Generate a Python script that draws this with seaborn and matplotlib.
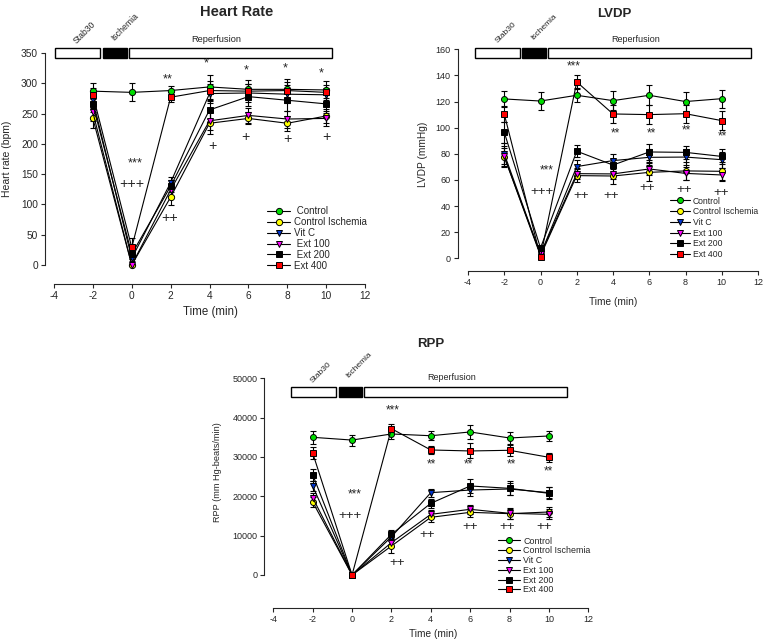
import matplotlib
matplotlib.use("Agg")
import matplotlib.pyplot as plt
from matplotlib.patches import Rectangle
import seaborn as sns
import numpy as np

# ---- data ----
times = [-2, 0, 2, 4, 6, 8, 10]
groups = ["Control", "Control Ischemia", "Vit C", "Ext 100", "Ext 200", "Ext 400"]
colors = ["#00dd00", "#ffff00", "#0033cc", "#ff00ff", "#000000", "#ff0000"]
markers = ["o", "o", "v", "v", "s", "s"]

hr_mean = {
    "Control":          [287, 285, 288, 294, 290, 290, 289],
    "Control Ischemia": [242, 0, 112, 234, 242, 234, 246],
    "Vit C":            [272, 11, 136, 283, 284, 282, 281],
    "Ext 100":          [252, 0, 124, 238, 247, 241, 242],
    "Ext 200":          [265, 18, 130, 256, 278, 272, 266],
    "Ext 400":          [281, 29, 277, 288, 287, 288, 285],
}
hr_sem = {
    "Control":          [13, 15, 7, 20, 15, 17, 14],
    "Control Ischemia": [15, 0, 13, 18, 10, 12, 12],
    "Vit C":            [12, 5, 10, 15, 15, 15, 12],
    "Ext 100":          [14, 0, 10, 15, 12, 14, 12],
    "Ext 200":          [12, 8, 10, 15, 15, 18, 15],
    "Ext 400":          [12, 15, 8, 15, 12, 14, 12],
}

lvdp_mean = {
    "Control":          [122, 120.4, 124.8, 120.7, 124.8, 120, 122.2],
    "Control Ischemia": [77.8, 2, 63.3, 63, 65.8, 66.9, 66.6],
    "Vit C":            [80, 3, 70.2, 74.8, 77.3, 77.5, 75.5],
    "Ext 100":          [78, 3, 64.8, 64.6, 68.4, 65, 63.8],
    "Ext 200":          [96.5, 7.9, 82, 71.4, 81.4, 81.1, 78],
    "Ext 400":          [110.5, 1, 135, 110.5, 110, 110.7, 105.4],
}
lvdp_sem = {
    "Control":          [6, 7, 5.5, 7, 7.5, 7.5, 7],
    "Control Ischemia": [7, 1, 5, 6, 7, 7, 7],
    "Vit C":            [8, 1, 5, 5, 6, 6, 6],
    "Ext 100":          [8, 1, 4, 4, 5, 5, 5],
    "Ext 200":          [8, 2, 4.5, 5, 6, 5, 5.5],
    "Ext 400":          [6, 0.5, 5.5, 7, 7.5, 7, 7],
}

rpp_mean = {
    "Control":          [35000, 34300, 35850, 35400, 36360, 34830, 35340],
    "Control Ischemia": [18560, 0, 7370, 14660, 15930, 15590, 16020],
    "Vit C":            [22630, 0, 9700, 20930, 21600, 21860, 20930],
    "Ext 100":          [19660, 0, 8220, 15420, 16700, 15680, 15420],
    "Ext 200":          [25510, 0, 10340, 18220, 22630, 22030, 20760],
    "Ext 400":          [31020, 0, 37200, 31780, 31530, 31700, 29920],
}
rpp_sem = {
    "Control":          [1700, 1400, 1300, 1100, 1700, 1500, 1300],
    "Control Ischemia": [1200, 0, 1800, 1200, 1200, 1300, 1300],
    "Vit C":            [1300, 0, 1000, 1000, 1500, 1500, 1400],
    "Ext 100":          [1200, 0, 1000, 1000, 1200, 1400, 1300],
    "Ext 200":          [1500, 0, 1000, 1200, 1800, 1800, 1500],
    "Ext 400":          [1500, 0, 1200, 1100, 1900, 1400, 1200],
}

# significance marks: (text, x, y)
hr_marks = [("***", 0.17, 168), ("+++", 0.0, 133), ("**", 1.85, 307),
            ("*", 3.85, 333), ("*", 5.87, 322), ("*", 7.9, 325), ("*", 9.75, 316),
            ("+", 4.13, 196), ("+", 5.87, 212), ("+", 8.0, 208), ("+", 10.0, 212),
            ("++", 1.97, 78)]
lvdp_marks = [("***", 1.85, 146.7), ("***", 0.34, 67), ("+++", 0.07, 50.5),
              ("++", 2.23, 48), ("++", 3.87, 48), ("++", 5.89, 53.6),
              ("++", 7.91, 52.3), ("++", 9.94, 50.3),
              ("**", 4.11, 95.7), ("**", 6.13, 95.7), ("**", 8.03, 97.7), ("**", 10.05, 93)]
rpp_marks = [("***", 2.06, 41780), ("***", 0.15, 20600), ("+++", -0.1, 15000),
             ("++", 2.27, 2970), ("++", 3.79, 10170), ("++", 6.02, 12290),
             ("++", 7.88, 12290), ("++", 9.76, 12290),
             ("**", 4.01, 28140), ("**", 5.9, 28140), ("**", 8.1, 28140), ("**", 9.97, 26270)]

sns.set_style("ticks")
plt.rcParams["font.family"] = ["Liberation Sans", "DejaVu Sans"]
plt.rcParams["axes.unicode_minus"] = False

fig = plt.figure(figsize=(7.64, 6.41), dpi=100)
W, H = 764, 641


def px(x, y):
    return x / W, (H - y) / H


def make_ax(x0, x1, y0, y1):
    # pixel box of the data area (x -4..12, y 0..top)
    return fig.add_axes([x0 / W, (H - y1) / H, (x1 - x0) / W, (y1 - y0) / H])


def draw_panel(ax, mean, sem, ytop, ystep, bars, labels, marks,
               off_l, off_b, fs_tick, fs_lab, fs_leg, leg_xy, leg_sp, leg_hl,
               leg_labels, ms):
    for g in groups:
        ax.errorbar(times, mean[g], yerr=sem[g], fmt="none", ecolor="black",
                    elinewidth=0.8, capsize=2.5, capthick=0.8, clip_on=False, zorder=2)
    for g, c, m, lab in zip(groups, colors, markers, leg_labels):
        sns.lineplot(x=times, y=mean[g], ax=ax, color="black", lw=0.8,
                     marker=m, markersize=ms, markerfacecolor=c,
                     markeredgecolor="black", markeredgewidth=0.7,
                     label=lab, clip_on=False, zorder=3)
    ax.set_xlim(-4, 12)
    ax.set_ylim(0, ytop)
    ax.set_xticks(np.arange(-4, 13, 2))
    ax.set_yticks(np.arange(0, ytop + 1, ystep))
    sns.despine(ax=ax)
    ax.spines["left"].set_position(("outward", off_l))
    ax.spines["bottom"].set_position(("outward", off_b))
    for s in ("left", "bottom"):
        ax.spines[s].set_linewidth(0.8)
    ax.tick_params(labelsize=fs_tick, length=3, width=0.8, pad=2)
    ax.set_xlabel("")
    ax.set_ylabel("")

    # protocol bars
    (s0, s1), (i0, i1), (r0, r1), (b0, b1) = bars
    for (a, b), fc in [((s0, s1), "white"), ((i0, i1), "black"), ((r0, r1), "white")]:
        ax.add_patch(Rectangle((a, b0), b - a, b1 - b0, facecolor=fc,
                               edgecolor="black", lw=1.0, clip_on=False))
    (sx, sy), (ix, iy), (rx, ry) = labels
    ax.text(sx, sy, "Stab30", rotation=45, rotation_mode="anchor",
            ha="left", va="bottom", fontsize=fs_lab, clip_on=False)
    ax.text(ix, iy, "Ischemia", rotation=45, rotation_mode="anchor",
            ha="left", va="bottom", fontsize=fs_lab, clip_on=False)
    ax.text(rx, ry, "Reperfusion", ha="center", va="center", fontsize=fs_lab + 0.5,
            clip_on=False)

    for t, x, y in marks:
        ax.text(x, y, t, ha="center", va="center",
                fontsize=fs_tick + 3 if "+" in t else fs_tick + 2, clip_on=False)

    ax.legend(loc="upper left", bbox_to_anchor=px(*leg_xy),
              bbox_transform=fig.transFigure, frameon=False,
              fontsize=fs_leg, handlelength=leg_hl, handletextpad=0.35,
              labelspacing=leg_sp, borderpad=0, borderaxespad=0)


ax1 = make_ax(54, 365, 53, 265)
draw_panel(ax1, hr_mean, hr_sem, 350, 50,
           bars=[(-3.95, -1.63), (-1.48, -0.25), (-0.14, 10.3), (342, 358)],
           labels=[(-2.75, 362), (-0.85, 367), (4.33, 372)],
           marks=hr_marks, off_l=6.5, off_b=13.5, fs_tick=7.3, fs_lab=6.2,
           fs_leg=7, leg_xy=(267, 206), leg_sp=0.1, leg_hl=2.4,
           leg_labels=[" Control", "Control Ischemia", "Vit C", " Ext 100",
                       " Ext 200", "Ext 400"], ms=4.5)

ax2 = make_ax(468, 758, 49.3, 258.3)
draw_panel(ax2, lvdp_mean, lvdp_sem, 160, 20,
           bars=[(-3.61, -1.12), (-1.0, 0.29), (0.41, 11.6), (153, 161)],
           labels=[(-2.3, 163.5), (-0.3, 166), (5.25, 167.5)],
           marks=lvdp_marks, off_l=7.5, off_b=9.5, fs_tick=6.5, fs_lab=6,
           fs_leg=6.2, leg_xy=(670, 196.5), leg_sp=0.2, leg_hl=2.3,
           leg_labels=groups, ms=4.3)

ax3 = make_ax(273.3, 588.3, 378.3, 575)
draw_panel(ax3, rpp_mean, rpp_sem, 50000, 10000,
           bars=[(-3.12, -0.82), (-0.67, 0.50), (0.61, 10.92), (45300, 47900)],
           labels=[(-1.95, 48500), (-0.1, 49800), (5.06, 50100)],
           marks=rpp_marks, off_l=6.5, off_b=24, fs_tick=6.5, fs_lab=6,
           fs_leg=6.4, leg_xy=(498, 536.5), leg_sp=0.09, leg_hl=2.5,
           leg_labels=groups, ms=4.3)

# titles and axis labels
fig.text(*px(237, 12), "Heart Rate", ha="center", va="center", fontsize=10.5, fontweight="bold")
fig.text(*px(614, 14), "LVDP", ha="center", va="center", fontsize=9.5, fontweight="bold")
fig.text(*px(431, 344), "RPP", ha="center", va="center", fontsize=9.5, fontweight="bold")

fig.text(*px(7, 159), "Heart rate (bpm)", rotation=90, ha="center", va="center", fontsize=7.5)
fig.text(*px(423, 154), "LVDP (mmHg)", rotation=90, ha="center", va="center", fontsize=7.3)
fig.text(*px(218, 472), "RPP (mm Hg-beats/min)", rotation=90, ha="center", va="center", fontsize=6.6)

fig.text(*px(210, 312), "Time (min)", ha="center", va="center", fontsize=8.3)
fig.text(*px(613, 302), "Time (min)", ha="center", va="center", fontsize=7.3)
fig.text(*px(433, 634), "Time (min)", ha="center", va="center", fontsize=7.3)

fig.savefig("out.png", dpi=100)
